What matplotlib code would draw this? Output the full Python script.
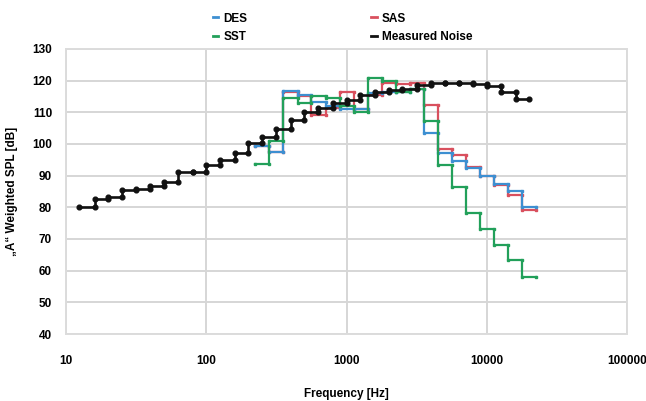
import numpy as np
import matplotlib.pyplot as plt
from matplotlib.ticker import FuncFormatter, NullLocator

plt.rcParams['font.family'] = ['Liberation Sans', 'DejaVu Sans']
plt.rcParams['font.weight'] = 'bold'

# third-octave band centres
meas_freq = [12.5, 16, 20, 25, 31.5, 40, 50, 63, 80, 100, 125, 160, 200, 250,
             315, 400, 500, 630, 800, 1000, 1250, 1600, 2000, 2500, 3150,
             4000, 5000, 6300, 8000, 10000, 12500, 16000, 20000]
# level held from one centre to the next
meas_spl = [80.0, 82.5, 83.2, 85.5, 85.9, 86.8, 88.1, 91.3, 91.2, 93.4, 95.0,
            97.0, 100.2, 102.3, 104.6, 107.5, 110.0, 111.3, 112.8, 114.0,
            115.5, 116.5, 117.0, 117.3, 118.6, 119.2, 119.4, 119.4, 118.8,
            118.4, 116.5, 114.2]

# simulated bands 250 Hz .. 20 kHz, drawn between band edges
sim_edges = [224, 282, 355, 447, 562, 708, 891, 1122, 1413, 1778, 2239, 2818,
             3548, 4467, 5623, 7079, 8913, 11220, 14125, 17783, 22387]
des = [99.5, 97.5, 116.8, 115.5, 113.4, 112.0, 111.0, 111.0, 116.0, 116.5,
       116.5, 117.5, 103.5, 97.0, 94.5, 92.5, 90.0, 87.5, 85.0, 80.2]
sas = [99.5, 97.5, 116.5, 115.0, 109.0, 111.5, 116.5, 111.0, 115.5, 119.2,
       119.0, 119.2, 112.3, 98.5, 96.5, 92.8, 90.0, 87.2, 84.0, 79.3]
sst = [93.7, 101.0, 114.4, 113.0, 115.0, 114.5, 112.0, 110.0, 120.8, 119.8,
       116.5, 117.3, 107.3, 93.5, 86.5, 78.3, 73.0, 68.0, 63.5, 58.0]

x_ticks = [10, 100, 1000, 10000, 100000]
y_ticks = list(range(40, 131, 10))


def steps(edges, vals):
    xs, ys = [], []
    for i, v in enumerate(vals):
        xs += [edges[i], edges[i + 1]]
        ys += [v, v]
    return xs, ys


fig = plt.figure(figsize=(6.46, 4.01), dpi=100)
ax = fig.add_axes([0.102, 0.167, 0.869, 0.711])

x, y = steps(sim_edges, sas)
ax.plot(x, y, color='#d9505e', lw=1.6, marker='s', ms=1.8, label='SAS')
x, y = steps(sim_edges, des)
ax.plot(x, y, color='#3d8fd1', lw=1.6, marker='s', ms=1.8, label='DES')
x, y = steps(sim_edges, sst)
ax.plot(x, y, color='#22a05a', lw=1.6, marker='s', ms=1.8, label='SST')
x, y = steps(meas_freq, meas_spl)
ax.plot(x, y, color='#111111', lw=1.9, marker='o', ms=3.4, label='Measured Noise')

ax.set_xscale('log')
ax.set_xlim(10, 100000)
ax.set_ylim(40, 130)
ax.set_xticks(x_ticks)
ax.xaxis.set_minor_locator(NullLocator())
ax.xaxis.set_major_formatter(FuncFormatter(lambda v, p: '%d' % v))
ax.set_yticks(y_ticks)
ax.tick_params(length=0, labelsize=8.5)
ax.tick_params(axis='x', pad=15)
ax.tick_params(axis='y', pad=10)
ax.grid(True, color='#d6d6d6', lw=1.4)
ax.set_axisbelow(True)
for s in ax.spines.values():
    s.set_color('#dcdcdc')
    s.set_linewidth(1.4)

ax.set_xlabel('Frequency [Hz]', fontsize=8.5, fontweight='bold', labelpad=15)
ax.set_ylabel('„A“ Weighted SPL [dB]', fontsize=8.5, fontweight='bold', labelpad=10)

h, l = ax.get_legend_handles_labels()
order = [1, 2, 0, 3]
handles = [h[i] for i in order]
labels = [l[i] for i in order]
leg = fig.legend(handles, labels, loc='upper left', bbox_to_anchor=(0.313, 0.995),
                 ncol=2, frameon=False, fontsize=8.5, handlelength=0.45,
                 handletextpad=0.45, columnspacing=10.5, labelspacing=0.55)
for lh in leg.legend_handles:
    lh.set_marker('')
    lh.set_linewidth(2)

fig.savefig('out.png', dpi=100)
